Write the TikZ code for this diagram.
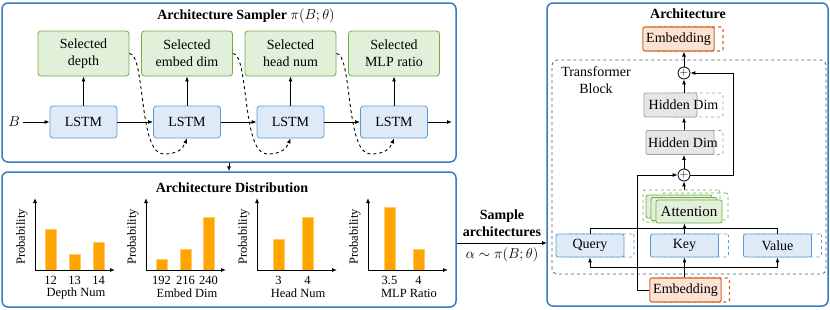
\documentclass[tikz,border=0pt]{standalone}
\usepackage{fontspec}
\setmainfont{Liberation Serif}
\usetikzlibrary{arrows.meta,calc}

\definecolor{panelB}{RGB}{58,122,192}
\definecolor{grnD}{RGB}{112,173,71}
\definecolor{grnL}{RGB}{226,240,217}
\definecolor{bluD}{RGB}{91,155,213}
\definecolor{bluL}{RGB}{222,235,247}
\definecolor{orD}{RGB}{210,105,40}
\definecolor{orL}{RGB}{251,226,210}
\definecolor{gryD}{RGB}{160,160,160}
\definecolor{gryL}{RGB}{231,230,230}
\definecolor{barOr}{RGB}{255,165,0}

\newcommand{\fsMain}{\fontsize{14}{17}\selectfont}
\newcommand{\fsChart}{\fontsize{12.5}{14}\selectfont}

\tikzset{
  panel/.style={draw=panelB, line width=1.5pt, rounded corners=6pt},
  arr/.style={-{Latex[length=5pt,width=4pt]}, line width=0.9pt},
  gbox/.style={draw=grnD, fill=grnL, rounded corners=3pt, line width=0.8pt,
    minimum width=91pt, minimum height=45pt, align=center, font=\fsMain},
  lbox/.style={draw=bluD, fill=bluL, rounded corners=3pt, line width=0.8pt,
    minimum width=67pt, minimum height=32pt, font=\fsMain},
  qbox/.style={draw=bluD, fill=bluL, rounded corners=2pt, line width=0.8pt,
    minimum width=68pt, minimum height=23pt, font=\fsMain},
  obox/.style={draw=orD, fill=orL, rounded corners=2pt, line width=1.1pt,
    minimum width=71pt, minimum height=24pt, font=\fsMain},
  hbox/.style={draw=gryD, fill=gryL, rounded corners=2pt, line width=0.8pt,
    minimum width=68pt, minimum height=24pt},
  abox/.style={draw=grnD, fill=grnL, rounded corners=2pt, line width=0.8pt,
    minimum width=66pt, minimum height=23pt, font=\fontsize{15}{17}\selectfont},
  plus/.style={circle, draw, fill=white, line width=0.8pt, minimum size=12pt,
    inner sep=0pt, font=\fontsize{11}{11}\selectfont},
  bar/.style={fill=barOr, draw=barOr!60!white, line width=0.5pt}
}

\begin{document}
\begin{tikzpicture}[x=1pt, y=1pt]
    \useasboundingbox (0,0) rectangle (830,309);

    \node[panel, minimum width=454pt, minimum height=159pt] (sampP) at (229,226.5) {};
    \node[panel, minimum width=454pt, minimum height=135pt] (distP) at (229,69.5) {};
    \node[panel, minimum width=281pt, minimum height=303pt] (archP) at (687.5,154.5) {};

    \node[font=\fsMain] (sampT) at (246,293) {\textbf{Architecture Sampler} $\pi(B;\theta)$};
    \foreach \i/\x/\t in {1/83.5/depth,2/187/embed dim,3/290.5/head num,4/394/MLP ratio}{
        \node[gbox] (g\i) at (\x,255.5) {Selected\\\t};
        \node[lbox] (l\i) at (\x,187) {LSTM};
        \draw[arr] (l\i) -- (g\i);
    }
    \node[font=\fsMain] (B) at (14,187) {$B$};
    \draw[arr] (B) -- (l1);
    \foreach \i/\j in {1/2,2/3,3/4}{
        \draw[arr] (l\i) -- (l\j);
        \draw[arr, dashed] (g\i.east) .. controls +(16,0) and +(-25,0) .. ++(34,-100.5)
            .. controls +(15,0) and +(-4,-10) .. (l\j.south);
    }
    \coordinate (endS) at (452,187);
    \draw[arr] (l4) -- (endS);
    \draw[arr] (sampP.south) -- (distP.north);

    \node[font=\fsMain\bfseries] (distT) at (232,121) {Architecture Distribution};
    \foreach \ox/\bars/\nm [count=\c] in {35/{10/41/12,34/16/13,58/28/14}/Depth Num,
        146/{10/11/192,34/21/216,57/53/240}/Embed Dim,
        257/{16/31/3,45/53/4}/Head Num,
        368/{16/63/3.5,45/21/4}/MLP Ratio}{
        \foreach \bx/\bh/\bl [count=\k] in \bars{
            \fill[bar] (\ox+\bx,39) rectangle ++(11,\bh);
            \node[font=\fsChart] (n\c\k) at (\ox+\bx+5.5,29) {\bl};
        }
        \draw[arr] (\ox,39) -- (\ox,111);
        \draw[arr] (\ox,39) -- (\ox+80,39);
        \node[font=\fsChart, rotate=90] (p\c) at (\ox-13,72) {Probability};
        \node[font=\fsChart] (x\c) at (\ox+41,16) {\nm};
    }

    \node[font=\fsMain\bfseries, align=center] (sampL) at (502,85.5) {Sample\\architectures};
    \node[font=\fsMain] (alpha) at (502,54) {$\alpha\sim\pi(B;\theta)$};
    \coordinate (sampE) at (547,66);
    \draw[arr] (distP.east |- sampE) -- (sampE);

    \node[font=\fsMain\bfseries] (archT) at (688,295) {Architecture};
    \draw[black!65, dashed, line width=0.8pt, rounded corners=5pt] (552,35) rectangle (826,249);
    \node[font=\fsMain, align=center] (tbT) at (596,228.5) {Transformer\\Block};

    \node[obox, dashed, fill=none] (embTd) at (687.5,270) {};
    \node[obox] (embT) at (678.5,270) {Embedding};
    \node[plus] (pl1) at (684,236) {$+$};

    \node[hbox, dashed, fill=none, minimum width=53pt] (hdAd) at (696.5,204) {};
    \node[hbox, minimum width=53pt] (hdA) at (670.5,204) {};
    \node[font=\fsMain] (hdAt) at (683.5,204) {Hidden Dim};
    \node[hbox, dashed, fill=none] (hdBd) at (689,166.5) {};
    \node[hbox] (hdB) at (680,166.5) {};
    \node[font=\fsMain] (hdBt) at (683,166.5) {Hidden Dim};
    \node[plus] (pl2) at (684,134) {$+$};

    \node[abox, dashed, fill=none, minimum width=77pt, minimum height=32pt] (attD1) at (681.5,103) {};
    \node[abox, dashed, fill=none, minimum height=27pt] (attD2) at (695,102.5) {};
    \node[abox] (att3) at (679,102.5) {};
    \node[abox] (att2) at (684,100) {};
    \node[abox] (att) at (689,97.5) {Attention};

    \foreach \n/\x/\t in {q/590/Query,k/684.5/Key,v/777.5/Value}{
        \node[qbox, dashed, fill=none] (d\n) at (\x+10,63.5) {};
        \node[qbox] (\n) at (\x,63.5) {\t};
    }
    \node[obox, dashed, fill=none] (embBd) at (694,19) {};
    \node[obox] (embB) at (685.5,19) {Embedding};

    \draw[arr] (pl1.north) -- (pl1.north |- embT.south);
    \draw[arr] (hdA.north -| pl1) -- (pl1.south);
    \draw[arr] (hdB.north -| pl1) -- (hdA.south -| pl1);
    \draw[arr] (pl2.north) -- (hdB.south -| pl2);
    \draw[arr] (pl2.east) -- ++(43,0) |- (pl1.east);
    \draw[arr] (attD1.north -| pl2) -- (pl2.south);
    \draw[line width=0.9pt] (q.north) -- ++(0,5) -| (v.north);
    \draw[arr] (k.north) -- (att.south -| k.north);
    \draw[arr] (embB.north -| k) -- (k.south);
    \coordinate (busB) at ($(k.south)!0.5!(embB.north -| k)$);
    \draw[arr] (busB) -| (q.south);
    \draw[arr] (busB) -| (v.south);
    \draw[arr] (embB.west) -- ++(-12,0) |- (pl2.west);
\end{tikzpicture}
\end{document}
